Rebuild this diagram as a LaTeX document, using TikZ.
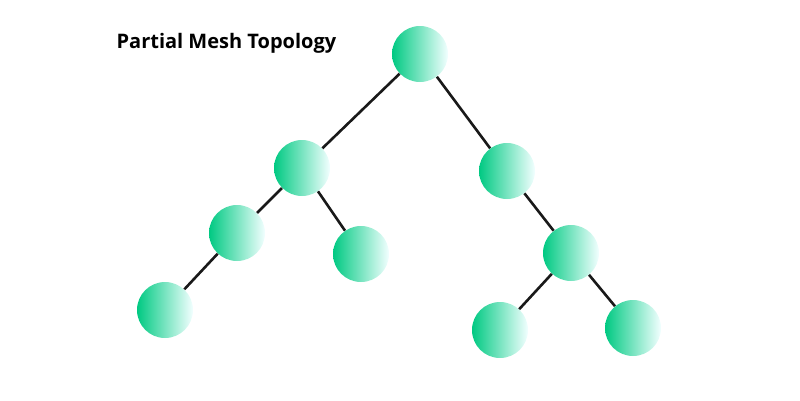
\documentclass[tikz,border=0pt]{standalone}
\usepackage{fontspec}
\setmainfont{Open Sans}
\begin{document}
\begin{tikzpicture}[x=1pt,y=-1pt,semithick,
  host/.style={circle,minimum size=56pt,inner sep=0pt,left color=teal!60!green!70!cyan,right color=white!95!cyan,draw=none},
  link/.style={line width=2.6pt,black!90}]
  \useasboundingbox (0,0) rectangle (800,400);

  \node[anchor=west,font=\bfseries\fontsize{20}{24}\selectfont] (T) at (113,43) {Partial Mesh Topology};

  \node[host] (R)   at (420,54)  {};
  \node[host] (A)   at (302,168) {};
  \node[host] (B)   at (507,171) {};
  \node[host] (AA)  at (237,233) {};
  \node[host] (AB)  at (361,254) {};
  \node[host] (AAA) at (165,310) {};
  \node[host] (BB)  at (571,253) {};
  \node[host] (BBA) at (500,330) {};
  \node[host] (BBB) at (633,328) {};

  \begin{scope}[on background layer/.style={}]
  \foreach \u/\v in {R/A,R/B,A/AA,A/AB,AA/AAA,B/BB,BB/BBA,BB/BBB}
    \draw[link] (\u) -- (\v);
  \end{scope}
\end{tikzpicture}
\end{document}
